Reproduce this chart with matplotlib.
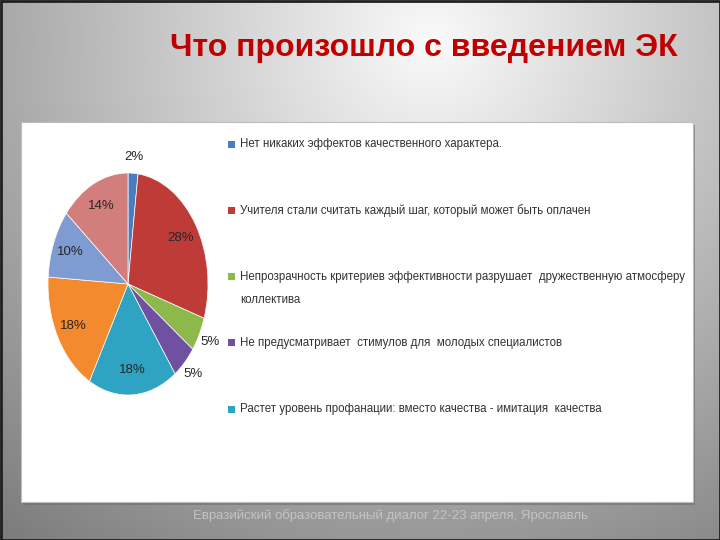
import numpy as np
import matplotlib
matplotlib.use("Agg")
import matplotlib.pyplot as plt
from matplotlib.patches import Rectangle

title = "Что произошло с введением ЭК"
footer = "Евразийский образовательный диалог 22-23 апреля, Ярославль"
values = [2, 28, 5, 5, 18, 18, 10, 14]
pct_labels = ["2%", "28%", "5%", "5%", "18%", "18%", "10%", "14%"]
colors = ["#4A7CC0", "#BE3B38", "#8DB84A", "#7050A0", "#2FA3C2",
          "#F38A2E", "#7E9CD2", "#D27E7C"]
legend_labels = [
    "Нет никаких эффектов качественного характера.",
    "Учителя стали считать каждый шаг, который может быть оплачен",
    "Непрозрачность критериев эффективности разрушает  дружественную атмосферу\nколлектива",
    "Не предусматривает  стимулов для  молодых специалистов",
    "Растет уровень профанации: вместо качества - имитация  качества",
]

W, H = 720, 540
fig = plt.figure(figsize=(7.2, 5.4), dpi=100)
FONT = ["Liberation Sans", "DejaVu Sans"]

# background gradient
bg = fig.add_axes([0, 0, 1, 1])
yy, xx = np.mgrid[0:H, 0:W]
d = np.sqrt(((xx - 430) / 540.0) ** 2 + ((yy - 40) / 520.0) ** 2)
val = np.clip(0.98 - 0.40 * d, 0.45, 1.0)
img = np.dstack([val, val, val])
bg.imshow(img, extent=[0, W, H, 0], aspect="auto")
bg.set_xlim(0, W)
bg.set_ylim(H, 0)
bg.axis("off")
bg.add_patch(Rectangle((0.5, 0.5), W - 1, H - 1, fill=False, ec="#202020", lw=2))
bg.add_patch(Rectangle((23, 125), 672, 380, fc="#6e6e6e", ec="none", alpha=0.6))
bg.add_patch(Rectangle((21, 122), 672, 380, fc="white", ec="#bdbdbd", lw=0.8))

fig.text(424 / W, 1 - 48 / H, title, ha="center", va="center",
         fontsize=23, fontweight="bold", color="#C00000", family=FONT)
fig.text(391 / W, 1 - 516 / H, footer, ha="center", va="center",
         fontsize=9.5, color="#c4c4c4", family=FONT)

# pie (elliptical like the reference)
ax = fig.add_axes([48 / W, 1 - 395 / H, 160 / W, 222 / H])
wedges, _ = ax.pie(values, colors=colors, startangle=90, counterclock=False,
                   wedgeprops=dict(linewidth=0.5, edgecolor="white"))
ax.set_aspect("auto")
ax.set_xlim(-1, 1)
ax.set_ylim(-1, 1)
ax.axis("off")
for w, lab, v in zip(wedges, pct_labels, values):
    ang = np.deg2rad((w.theta1 + w.theta2) / 2)
    r = 1.15 if v < 8 else 0.78
    ax.text(r * np.cos(ang), r * np.sin(ang), lab, ha="center", va="center",
            fontsize=9.5, color="#262626", family=FONT, clip_on=False)

# legend (first five categories)
for i, (lab, c) in enumerate(zip(legend_labels, colors)):
    ypx = 144 + 66.3 * i
    bg.add_patch(Rectangle((228, ypx - 3.5), 7, 7, fc=c, ec="none"))
    for j, line in enumerate(lab.split("\n")):
        bg.text(240, ypx + 23 * j, line, ha="left", va="center",
                fontsize=8.3, color="#333333", family=FONT)

fig.savefig("out.png", dpi=100)
